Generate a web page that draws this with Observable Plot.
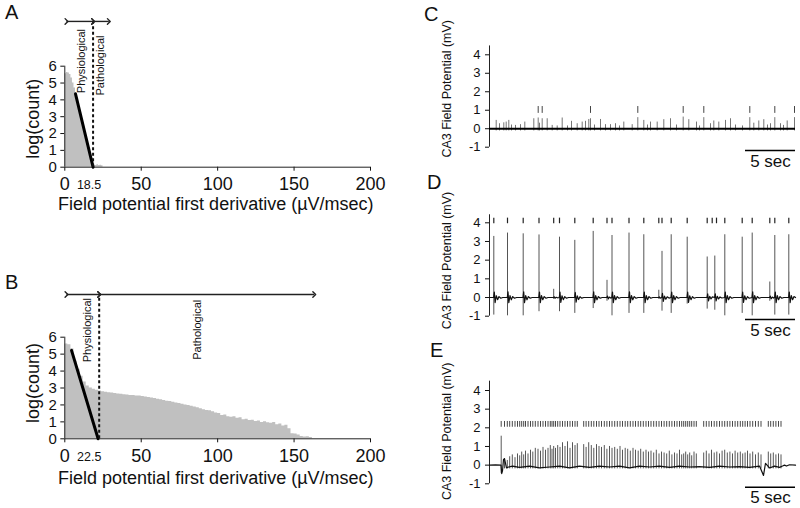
<!DOCTYPE html>
<html>
<head>
<meta charset="utf-8">
<script src="https://cdn.jsdelivr.net/npm/d3@7"></script>
<script src="https://cdn.jsdelivr.net/npm/@observablehq/plot@0.6"></script>
<style>
  body { margin: 0; background: #fff; }
  #fig { position: relative; width: 800px; height: 508px; overflow: hidden; background: #fff;
         font-family: "Liberation Sans", Arial, sans-serif; color: #111; }
  .panel { position: absolute; }
  .txt { position: absolute; white-space: nowrap; line-height: 0.75; }
  .ctr { position: absolute; white-space: nowrap; line-height: 0.75; transform: translateX(-50%); }
</style>
</head>
<body>
<div id="fig"></div>
<script>
// ---------------- DATA ----------------
// Panel A histogram: bin start (µV/msec) and log(count)
const aBins = [0,1,2,3,4,5,6,7,8,9,10,11,12,13,14,15,16,17,18,19,20,21,22,23,24,25];
const aLogCount = [5.55,5.62,5.6,5.5,5.3,5.0,4.7,4.35,4.0,3.6,3.25,2.85,2.45,2.05,1.7,1.3,0.95,0.55,0.2,0.12,0.1,0.15,0.1,0.12,0.08,0];
const aThreshold = 18.5;
const aFit = [[7, 4.36], [18.5, 0]];
const aArrowEnds = [1.1, 18.5, 28.8];

// Panel B histogram (bins of 2 µV/msec)
const bBins = [0,2,4,6,8,10,12,14,16,18,20,22,24,26,28,30,32,34,36,38,40,42,44,46,48,50,52,54,56,58,60,62,64,66,68,70,72,74,76,78,80,82,84,86,88,90,92,94,96,98,100,102,104,106,108,110,112,114,116,118,120,122,124,126,128,130,132,134,136,138,140,142,144,146,148,150,152,154,156,158,160,162];
const bLogCount = [5.6,5.55,5.3,4.6,4.1,3.7,3.35,3.12,3.0,2.92,2.86,2.82,2.78,2.75,2.72,2.7,2.67,2.65,2.63,2.6,2.58,2.56,2.55,2.53,2.53,2.5,2.47,2.44,2.41,2.38,2.34,2.3,2.26,2.22,2.2,2.16,2.12,2.08,2.04,2.0,1.97,1.92,1.88,1.84,1.78,1.72,1.67,1.66,1.6,1.52,1.5,1.38,1.4,1.3,1.28,1.3,1.22,1.24,1.12,1.15,1.08,1.1,1.02,1.05,0.97,1.0,0.95,0.92,0.96,0.83,0.88,0.75,0.8,0.6,0.3,0.28,0.22,0.13,0.1,0.12,0.08,0];
const bThreshold = 22.5;
const bFit = [[4.4, 5.22], [21.8, 0]];
const bArrowEnds = [1.1, 22.5, 163.2];

const histXTicks = [0, 50, 100, 150, 200];
const histYTicks = [0, 1, 2, 3, 4, 5, 6];
const arrowLevelA = 8.66, arrowLevelB = 8.52;

// Traces (time in s, potential in mV)
const traceDuration = 30.6;
const traceYTicks = [-1, 0, 1, 2, 3, 4];
const scaleBar = {start: 25.6, length: 5, level: -1.18, label: "5 sec"};

// C: [time, amplitude]
const cSpikes = [[0.67,0.45],[1.0,0.27],[1.43,0.32],[1.67,0.36],[1.93,0.45],[2.2,0.2],[2.6,0.18],[3.1,0.22],[3.53,0.36],[4.43,0.54],[4.87,0.58],[5.0,0.3],[5.27,0.54],[5.77,0.54],[6.27,0.18],[6.77,0.15],[7.27,0.58],[7.8,0.15],[8.2,0.4],[8.77,0.27],[9.27,0.36],[9.6,0.4],[9.93,0.5],[10.1,0.54],[10.5,0.2],[11.1,0.5],[11.6,0.22],[12.1,0.22],[12.6,0.27],[13.0,0.15],[13.43,0.36],[14.27,0.22],[14.83,0.6],[15.43,0.45],[15.8,0.2],[16.1,0.36],[16.77,0.36],[17.43,0.49],[18.1,0.54],[18.7,0.2],[19.37,0.63],[19.93,0.49],[20.7,0.36],[21.0,0.15],[21.43,0.6],[22.1,0.27],[22.43,0.42],[22.93,0.36],[23.6,0.45],[24.1,0.54],[24.6,0.2],[25.3,0.15],[26.03,0.6],[26.43,0.3],[26.93,0.42],[27.43,0.49],[27.8,0.2],[28.1,0.27],[28.53,0.6],[29.1,0.27],[29.4,0.18],[29.77,0.42],[30.5,0.6]];
const cRaster = [4.87, 5.27, 10.1, 14.83, 19.37, 21.43, 26.03, 28.53, 30.5];

// D: [time, peak, trough]
const dSpikes = [[0.43,3.27,-0.94],[1.8,3.45,-0.98],[3.37,3.41,-0.98],[4.95,3.35,-0.76],[6.42,0.44,-0.1],[7.0,3.23,-0.76],[8.53,3.06,-0.85],[10.37,3.54,-0.59],[11.75,0.92,-0.2],[12.25,3.32,-0.98],[13.95,3.45,-0.85],[15.43,3.36,-0.85],[16.93,0.39,-0.1],[17.25,2.47,-0.73],[18.17,3.36,-0.85],[19.77,3.23,-0.35],[21.77,2.17,-0.62],[22.53,2.22,-0.68],[23.53,3.36,-0.98],[25.27,3.23,-0.85],[26.27,3.45,-0.98],[28.03,0.83,-0.2],[28.53,3.32,-0.94],[29.93,3.36,-0.94]];
const dRaster = [0.43,1.8,3.37,4.95,6.42,7.0,8.53,10.37,11.75,12.25,13.95,15.43,16.93,17.25,18.17,19.77,21.77,22.27,22.7,23.53,25.27,26.27,28.03,28.53,29.93];
// after-discharge waveform following each D population spike
const dWaveOffset = [0.05, 0.13, 0.25, 0.38, 0.52, 0.7, 0.9];
const dWaveValue  = [0.3, -0.28, 0.1, -0.12, 0.05, -0.04, 0];

// E: [time, amplitude]
const eSpikes = [[1.17,1.55],[1.5,0.35],[1.78,0.25],[2.02,0.45],[2.28,0.55],[2.55,0.4],[2.8,0.6],[3.02,0.5],[3.22,0.7],[3.42,0.55],[3.6,0.75],[3.85,0.6],[4.1,0.8],[4.33,0.7],[4.58,0.9],[4.85,0.85],[5.1,0.75],[5.35,0.95],[5.6,0.8],[5.85,0.9],[6.08,1.05],[6.25,0.85],[6.42,1.0],[6.6,0.9],[6.82,1.05],[7.05,0.95],[7.3,1.2],[7.55,1.0],[7.8,1.25],[8.05,0.9],[8.3,1.2],[8.55,1.05],[8.78,1.15],[9.42,1.1],[9.66,0.95],[9.92,1.2],[10.18,1.05],[10.43,0.9],[10.7,1.1],[10.95,1.0],[11.2,0.95],[11.48,1.05],[11.74,0.85],[12.0,1.0],[12.25,0.9],[12.52,0.95],[12.78,0.85],[13.05,1.0],[13.3,0.8],[13.57,0.9],[13.82,0.85],[14.08,0.75],[14.35,0.9],[14.6,0.8],[14.87,0.75],[15.12,0.85],[15.38,0.7],[15.65,0.8],[15.9,0.7],[16.15,0.75],[16.42,0.65],[16.68,0.8],[16.95,0.6],[17.2,0.7],[17.46,0.65],[17.72,0.6],[17.98,0.75],[18.24,0.55],[18.5,0.65],[18.75,0.6],[19.0,0.8],[19.22,0.55],[19.42,0.6],[19.62,0.7],[19.82,0.55],[20.02,0.65],[20.22,0.5],[20.45,0.7],[20.68,0.6],[21.42,0.65],[21.68,0.75],[21.95,0.6],[22.2,0.8],[22.47,0.65],[22.73,0.7],[23.0,0.6],[23.26,0.75],[23.52,0.8],[23.78,0.65],[24.04,0.7],[24.3,0.6],[24.56,0.75],[24.82,0.65],[25.08,0.7],[25.32,0.6],[25.56,0.65],[25.8,0.75],[26.05,0.6],[26.32,0.7],[26.6,0.55],[26.88,0.65],[27.15,0.55],[27.88,0.7],[28.12,0.6],[28.38,0.65],[28.64,0.55],[28.9,0.6],[29.15,0.55]];
const eBaseline = [[0,0],[0.6,0.01],[1.15,0],[1.22,-0.45],[1.3,-0.3],[1.4,0.3],[1.5,0.35],[1.6,0.1],[1.7,-0.15],[1.9,-0.1],[2.3,-0.05],[3,-0.12],[4,-0.05],[5,-0.15],[6,-0.1],[7,-0.05],[8,-0.15],[9,-0.05],[10,-0.12],[11,-0.05],[12,-0.1],[13,-0.05],[14,-0.15],[15,-0.05],[16,-0.1],[17,-0.05],[18,-0.12],[19,-0.05],[20,-0.1],[21,-0.08],[22,-0.12],[23,-0.05],[24,-0.1],[25,-0.08],[26,-0.12],[27,-0.05],[27.4,-0.55],[27.6,0.1],[28,-0.15],[28.5,-0.05],[29,-0.12],[29.3,-0.05],[29.5,0],[29.7,-0.05],[30,0.02],[30.6,0]];

const histYTitle = "log(count)";
const histXTitle = "Field potential first derivative (µV/msec)";
const traceYTitle = "CA3 Field Potential (mV)";

// ---------------- DRAWING ----------------
const fig = document.getElementById("fig");
const FONT = "Liberation Sans, Arial, sans-serif";
const fmt = d => String(d);

function place(node, left, top) {
  const d = document.createElement("div");
  d.className = "panel";
  d.style.left = left + "px";
  d.style.top = top + "px";
  d.appendChild(node);
  fig.appendChild(d);
}
function label(text, left, top, size) {
  const d = document.createElement("div");
  d.className = "txt";
  d.style.left = left + "px"; d.style.top = top + "px"; d.style.fontSize = size + "px";
  d.textContent = text; fig.appendChild(d);
}
function centered(text, cx, top, size) {
  const d = document.createElement("div");
  d.className = "ctr";
  d.style.left = cx + "px"; d.style.top = top + "px"; d.style.fontSize = size + "px";
  d.textContent = text; fig.appendChild(d);
}
// shrink the y-axis tick labels of a rendered plot
function yTickFont(svg, size) {
  svg.querySelectorAll('g[aria-label^="y-axis"]').forEach(g => { g.style.fontSize = size + "px"; g.setAttribute("font-size", size); });
  return svg;
}

function histPanel(bins, vals, thr, fit, arrowEnds, arrowY, thrLabelDx, phys, path, margins, height, titleDy) {
  const data = bins.map((b, i) => ({x: b, y: vals[i]}));
  const arrows = [{x1: arrowEnds[0], x2: arrowEnds[1]}, {x1: arrowEnds[1], x2: arrowEnds[2]}];
  const svg = Plot.plot({
    width: 400, height,
    marginLeft: 64.3, marginRight: 30, marginTop: margins[0], marginBottom: margins[1],
    x: {domain: [0, 200], ticks: histXTicks, tickSize: 4, tickPadding: 6, tickFormat: fmt, label: null},
    y: {domain: [0, 6], ticks: histYTicks, tickSize: 4, tickPadding: 4, tickFormat: fmt, label: null},
    style: {fontFamily: FONT, fontSize: "18px", color: "#111", background: "transparent", overflow: "visible"},
    marks: [
      Plot.areaY(data, {x: "x", y: "y", curve: "step-after", fill: "#c0c0c0"}),
      Plot.ruleY([0], {x1: 0, x2: 200, stroke: "#222", strokeWidth: 1}),
      Plot.ruleX([0], {y1: 0, y2: 6, stroke: "#222", strokeWidth: 1}),
      Plot.line(fit, {x: d => d[0], y: d => d[1], stroke: "#000", strokeWidth: 3}),
      Plot.ruleX([thr], {y1: 0, y2: arrowY, stroke: "#111", strokeWidth: 2, strokeDasharray: "3,2.5"}),
      Plot.link(arrows, {x1: "x1", x2: "x2", y1: arrowY, y2: arrowY, stroke: "#222", strokeWidth: 1.4,
                         markerStart: "arrow", markerEnd: "arrow"}),
      Plot.text([String(thr)], {x: thr, y: 0, dy: 18, dx: thrLabelDx, fontSize: 12.5, fill: "#111"}),
      Plot.text(["Physiological"], {x: phys[0], y: phys[1], rotate: -90, textAnchor: "start", fontSize: 11, fill: "#111"}),
      Plot.text(["Pathological"], {x: path[0], y: path[1], rotate: -90, textAnchor: "start", fontSize: 11, fill: "#111"}),
      Plot.text([histYTitle], {frameAnchor: "left", rotate: -90, textAnchor: "middle", lineAnchor: "middle",
                               dx: -31.8, dy: titleDy, fontSize: 18, fill: "#111"})
    ]
  });
  return yTickFont(svg, 15);
}

const plotA = histPanel(aBins, aLogCount, aThreshold, aFit, aArrowEnds, arrowLevelA, -4, [10.6, 4.4], [23.3, 4.26], [65.7, 63.3], 230, 2.1);
place(plotA, 0, 0);
const plotB = histPanel(bBins, bLogCount, bThreshold, bFit, bArrowEnds, arrowLevelB, -10, [14.6, 4.52], [86.5, 4.67], [106.7, 69.7], 278, -5);
place(plotB, 0, 230);

function tracePanel(height, mt, mb, axisTop, titleDy, marks) {
  return Plot.plot({
    width: 390, height,
    marginLeft: 79, marginRight: 5, marginTop: mt, marginBottom: mb,
    x: {domain: [0, traceDuration], axis: null},
    y: {domain: [-1, 4], ticks: traceYTicks, tickSize: 4, tickPadding: 5, tickFormat: fmt, label: null},
    style: {fontFamily: FONT, fontSize: "13px", color: "#111", background: "transparent", overflow: "visible"},
    marks: [
      Plot.ruleX([0], {y1: -1, y2: axisTop, stroke: "#222", strokeWidth: 1}),
      ...marks,
      Plot.ruleY([scaleBar.level], {x1: scaleBar.start, x2: scaleBar.start + scaleBar.length, stroke: "#000", strokeWidth: 1.5}),
      Plot.text([scaleBar.label], {x: scaleBar.start + scaleBar.length / 2, y: scaleBar.level, lineAnchor: "top", dy: 4, fontSize: 17, fill: "#111"}),
      Plot.text([traceYTitle], {frameAnchor: "left", rotate: -90, textAnchor: "middle", lineAnchor: "middle",
                                dx: -42.3, dy: titleDy, fontSize: 12.5, fill: "#111"})
    ]
  });
}

// C
const plotC = tracePanel(170, 54.3, 23.3, 4.48, -12.2, [
  Plot.ruleX(cSpikes, {x: d => d[0], y1: -0.12, y2: d => d[1], stroke: "#666", strokeWidth: 0.9}),
  Plot.ruleY([0], {x1: 0, x2: traceDuration, stroke: "#000", strokeWidth: 2}),
  Plot.ruleX(cRaster, {x: d => d, y1: 0.83, y2: 1.2, stroke: "#444", strokeWidth: 1})
]);
place(plotC, 410, 0);

// D: baseline built from spike times + after-discharge waveform
const dLine = [[0, 0]];
dSpikes.forEach((s, i) => {
  const next = i + 1 < dSpikes.length ? dSpikes[i + 1][0] : traceDuration;
  const k = Math.min(1, s[1] / 3.4);
  dLine.push([s[0] - 0.02, 0]);
  dWaveOffset.forEach((o, j) => { if (s[0] + o < next - 0.1) dLine.push([s[0] + o, dWaveValue[j] * k]); });
});
dLine.push([traceDuration, 0]);
const plotD = tracePanel(170, 57.3, 19.3, 4.43, -9, [
  Plot.ruleX(dSpikes, {x: d => d[0], y1: d => d[2], y2: d => d[1], stroke: "#555", strokeWidth: 1}),
  Plot.line(dLine, {x: d => d[0], y: d => d[1], stroke: "#111", strokeWidth: 1.2}),
  Plot.ruleX(dRaster, {x: d => d, y1: 3.95, y2: 4.25, stroke: "#222", strokeWidth: 1.2})
]);
place(plotD, 410, 165);

// E
const plotE = tracePanel(178, 60, 24.7, 4.5, -5.85, [
  Plot.ruleX(eSpikes, {x: d => d[0], y1: d => (d[1] > 1.4 ? -0.45 : -0.2), y2: d => d[1], stroke: "#444", strokeWidth: 0.9}),
  Plot.line(eBaseline, {x: d => d[0], y: d => d[1], stroke: "#111", strokeWidth: 1.2}),
  Plot.ruleX(eSpikes, {x: d => d[0], y1: 2.03, y2: 2.34, stroke: "#333", strokeWidth: 0.9})
]);
place(plotE, 410, 330);

// ---------------- TEXT ----------------
label("A", 5, 5, 20);
label("B", 5, 275, 20);
label("C", 424, 6.7, 20);
label("D", 427, 175, 20);
label("E", 430, 343.3, 20);
centered(histXTitle, 215.8, 197.5, 18);
centered(histXTitle, 215.8, 471.5, 18);
</script>
</body>
</html>
